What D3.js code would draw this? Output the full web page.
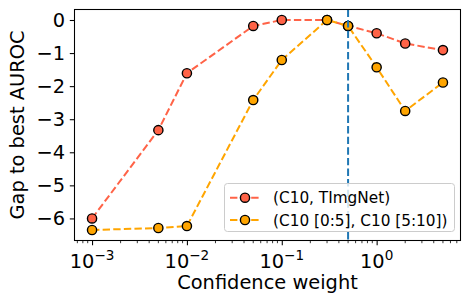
<!DOCTYPE html>
<html><head><meta charset="utf-8">
<script src="https://cdn.jsdelivr.net/npm/d3@7"></script>
<style>body{margin:0;background:#fff}svg{display:block;font-family:"DejaVu Sans",sans-serif}</style>
</head><body><svg id="c" width="471" height="307"></svg>
<script>
const weights = [0.001, 0.005, 0.01, 0.05, 0.1, 0.3, 0.5, 1, 2, 5];
const seriesNames = ["(C10, TImgNet)", "(C10 [0:5], C10 [5:10])"];
const seriesA = [-6.0, -3.33, -1.61, -0.18, 0.0, 0.0, -0.18, -0.40, -0.71, -0.91];
const seriesB = [-6.35, -6.29, -6.23, -2.42, -1.21, 0.0, -0.18, -1.43, -2.75, -1.89];
const colors = ["#ff6347", "#ffa500"];
const vlineX = 0.5;
const xTickExps = [-3, -2, -1, 0];
const yTicks = [0, -1, -2, -3, -4, -5, -6];
const xLabel = "Confidence weight";
const yLabel = "Gap to best AUROC";

const svg = d3.select("#c");
const L = 74.5, R = 460.5, T = 9.5, B = 240.5;
const x = d3.scaleLog().domain([Math.pow(10, -3.185), Math.pow(10, 0.884)]).range([L, R]);
const y = d3.scaleLinear().domain([-6.6675, 0.3175]).range([B, T]);
const FS = 19.4;

// axes
const xAxis = d3.axisBottom(x).tickValues(xTickExps.map(e => Math.pow(10, e))).tickFormat("").tickSizeOuter(0).tickSize(4.7);
const gx = svg.append("g").attr("transform", `translate(0,${B})`).call(xAxis);
gx.select(".domain").remove();
gx.selectAll("line").attr("stroke", "#000").attr("stroke-width", 1.07);
// minor ticks
const minors = [];
for (let e = -4; e <= 1; e++) for (let m = 2; m <= 9; m++) {
  const v = m * Math.pow(10, e);
  if (v >= x.domain()[0] && v <= x.domain()[1]) minors.push(v);
}
svg.append("g").selectAll("line").data(minors).join("line")
  .attr("x1", d => x(d)).attr("x2", d => x(d)).attr("y1", B).attr("y2", B + 2.7)
  .attr("stroke", "#000").attr("stroke-width", 0.8);
// x tick labels
const xt = svg.append("g").selectAll("text").data(xTickExps).join("text")
  .attr("x", e => x(Math.pow(10, e))).attr("y", 268).attr("text-anchor", "middle")
  .attr("font-size", FS).attr("fill", "#000");
xt.append("tspan").text("10");
xt.append("tspan").attr("dy", -8).attr("font-size", FS * 0.7).text(e => (e < 0 ? "\u2212" : "") + Math.abs(e));

const yAxis = d3.axisLeft(y).tickValues(yTicks).tickFormat(d => d < 0 ? "\u2212" + Math.abs(d) : d).tickSizeOuter(0).tickSize(4.7).tickPadding(4.7);
const gy = svg.append("g").attr("transform", `translate(${L},0)`).call(yAxis);
gy.select(".domain").remove();
gy.selectAll("line").attr("stroke", "#000").attr("stroke-width", 1.07);
gy.selectAll("text").attr("font-size", FS).attr("font-family", "DejaVu Sans").attr("fill", "#000");

// labels
svg.append("text").attr("x", (L + R) / 2).attr("y", 289).attr("text-anchor", "middle").attr("font-size", FS).text(xLabel);
svg.append("text").attr("transform", `translate(24,${(T + B) / 2}) rotate(-90)`).attr("text-anchor", "middle").attr("font-size", FS).text(yLabel);

// series
const plot = svg.append("g");
[seriesA, seriesB].forEach((s, i) => {
  const pts = weights.map((w, j) => [w, s[j]]);
  plot.append("path").datum(pts)
    .attr("d", d3.line().x(d => x(d[0])).y(d => y(d[1])))
    .attr("fill", "none").attr("stroke", colors[i]).attr("stroke-width", 2)
    .attr("stroke-dasharray", "7.4,3.2");
  plot.append("g").selectAll("circle").data(pts).join("circle")
    .attr("cx", d => x(d[0])).attr("cy", d => y(d[1])).attr("r", 4.6)
    .attr("fill", colors[i]).attr("stroke", "#000").attr("stroke-width", 1.4);
});
// vertical line
plot.append("line").attr("x1", x(vlineX)).attr("x2", x(vlineX)).attr("y1", T).attr("y2", B)
  .attr("stroke", "#1f77b4").attr("stroke-width", 2).attr("stroke-dasharray", "7.4,3.2");

// legend
const lg = svg.append("g");
lg.append("rect").attr("x", 224.5).attr("y", 183.5).attr("width", 230).attr("height", 48).attr("rx", 3)
  .attr("fill", "#fff").attr("fill-opacity", 0.8).attr("stroke", "#ccc").attr("stroke-width", 1);
seriesNames.forEach((n, i) => {
  const cy = 197.7 + i * 22.3;
  lg.append("line").attr("x1", 230).attr("x2", 260).attr("y1", cy).attr("y2", cy)
    .attr("stroke", colors[i]).attr("stroke-width", 2).attr("stroke-dasharray", "7.4,3.2");
  lg.append("circle").attr("cx", 245).attr("cy", cy).attr("r", 4.6).attr("fill", colors[i]).attr("stroke", "#000").attr("stroke-width", 1.4);
  lg.append("text").attr("x", 273).attr("y", cy + 5.5).attr("font-size", 15.3).text(n);
});

// spines
svg.append("rect").attr("x", L).attr("y", T).attr("width", R - L).attr("height", B - T)
  .attr("fill", "none").attr("stroke", "#000").attr("stroke-width", 1.07);
</script></body></html>
